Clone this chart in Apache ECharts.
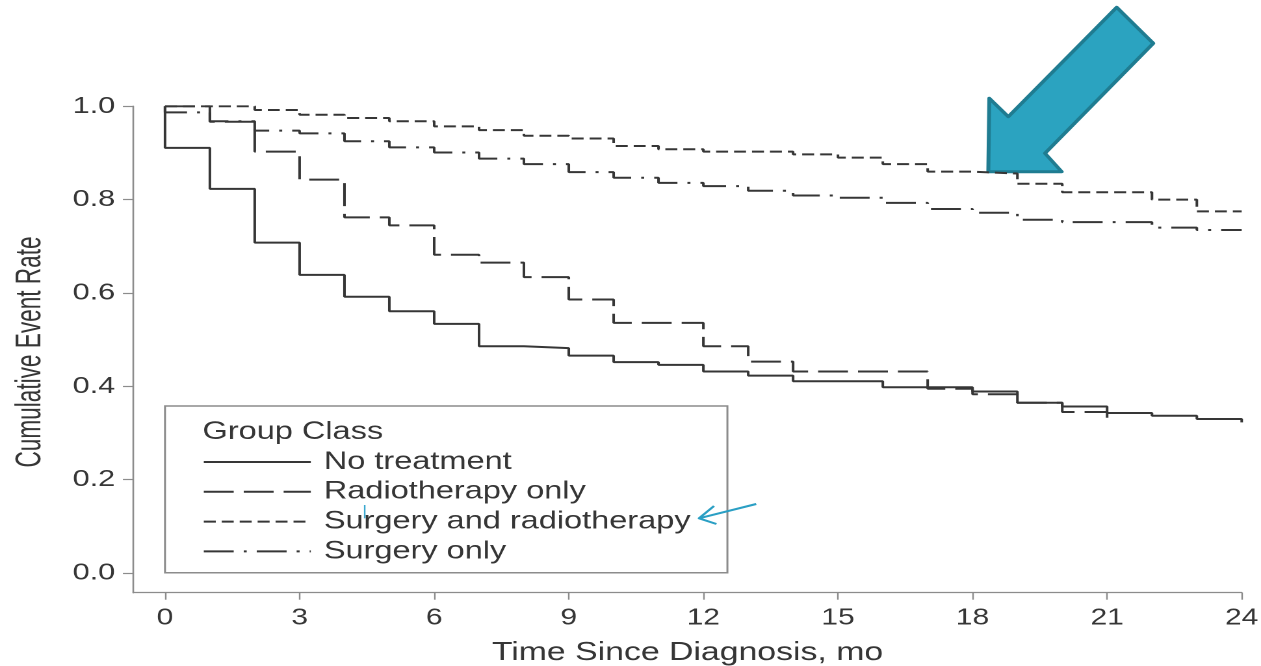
<!DOCTYPE html>
<html>
<head>
<meta charset="utf-8">
<title>Cumulative Event Rate by Group Class</title>
<script src="https://cdn.jsdelivr.net/npm/echarts@6/dist/echarts.min.js"></script>
<style>
  html, body { margin: 0; padding: 0; background: #fff; overflow: hidden; }
  /* the source figure is stretched sideways, so the chart is drawn narrow and widened */
  #chart { width: 970px; height: 666px; transform: scaleX(1.3); transform-origin: 0 0; }
</style>
</head>
<body>
<div id="chart"></div>
<script>
const STRETCH = 1.3

const groupNames = ["No treatment", "Radiotherapy only", "Surgery and radiotherapy", "Surgery only"]

// month where each step starts, and the rate held from there on
const noTreatmentMonths = [0, 0, 1, 2, 3, 4, 5, 6, 7, 8, 9, 10, 11, 12, 13, 14, 16, 18, 19, 20, 21, 22, 23, 24, 24]
const noTreatmentRates = [1.0, 0.911, 0.823, 0.708, 0.639, 0.592, 0.561, 0.534, 0.486, 0.482, 0.466, 0.452, 0.446, 0.432, 0.423, 0.411, 0.398, 0.389, 0.365, 0.357, 0.343, 0.337, 0.330, 0.330, 0.323]

const radioMonths = [0, 1, 2, 3, 4, 5, 6, 7, 8, 9, 10, 12, 13, 14, 17, 18, 19, 20, 21, 21]
const radioRates = [1.0, 0.967, 0.903, 0.843, 0.762, 0.745, 0.682, 0.665, 0.634, 0.586, 0.536, 0.486, 0.453, 0.432, 0.395, 0.383, 0.365, 0.345, 0.345, 0.326]

const surgRadioMonths = [0, 2, 3, 4, 5, 6, 7, 8, 9, 10, 11, 12, 14, 15, 16, 17, 18, 19, 20, 22, 23, 24]
const surgRadioRates = [1.0, 0.992, 0.982, 0.975, 0.968, 0.957, 0.949, 0.937, 0.931, 0.915, 0.908, 0.903, 0.897, 0.890, 0.876, 0.860, 0.856, 0.834, 0.816, 0.800, 0.775, 0.775]

const surgeryMonths = [0, 0, 1, 2, 3, 4, 5, 6, 7, 8, 9, 10, 11, 12, 13, 14, 15, 16, 17, 18, 19, 20, 22, 23, 24]
const surgeryRates = [1.0, 0.987, 0.968, 0.948, 0.942, 0.925, 0.912, 0.901, 0.888, 0.876, 0.859, 0.847, 0.836, 0.829, 0.819, 0.809, 0.804, 0.793, 0.780, 0.772, 0.757, 0.752, 0.740, 0.735, 0.735]

const xTicks = [0, 3, 6, 9, 12, 15, 18, 21, 24]
const yTicks = [0, 0.2, 0.4, 0.6, 0.8, 1.0]

const FONT = "'Liberation Sans', Arial, Helvetica, sans-serif"
const INK = "#363636"
const AXIS_GRAY = "#8c8c8c"
const TEAL = "#2ba3c0"
const TEAL_DARK = "#1f7c91"

// screen x -> chart x (before the css stretch)
const px = (x) => x / STRETCH

const toPairs = (months, rates) => months.map((m, i) => [m, rates[i]])

const makeSeries = (name, months, rates, dash) => ({
  name,
  type: "line",
  step: "end",
  symbol: "none",
  silent: true,
  data: toPairs(months, rates),
  itemStyle: { color: INK },
  lineStyle: { color: INK, width: 2, type: dash },
  emphasis: { disabled: true }
})

const chart = echarts.init(document.getElementById("chart"), null, { devicePixelRatio: 2 })

const option = {
  animation: false,
  backgroundColor: "#fff",
  grid: {
    left: px(133.3),
    right: 970 - px(1241.7),
    top: 106.3,
    bottom: 73.3,
    outerBoundsMode: "none"
  },
  xAxis: {
    type: "value",
    min: -0.707,
    max: 24,
    name: "Time Since Diagnosis, mo",
    nameLocation: "middle",
    nameGap: 47,
    nameTextStyle: { color: INK, fontSize: 26, fontFamily: FONT },
    axisLine: { onZero: false, lineStyle: { color: AXIS_GRAY, width: 1.3 } },
    axisTick: { length: 7, customValues: xTicks, lineStyle: { color: AXIS_GRAY, width: 1.2 } },
    axisLabel: { customValues: xTicks, margin: 14, color: INK, fontSize: 23, fontFamily: FONT },
    splitLine: { show: false }
  },
  yAxis: {
    type: "value",
    min: -0.042,
    max: 1.0,
    axisLine: { show: true, onZero: false, lineStyle: { color: AXIS_GRAY, width: 1.3 } },
    axisTick: { show: true, length: 8, customValues: yTicks, lineStyle: { color: AXIS_GRAY, width: 1.2 } },
    axisLabel: {
      customValues: yTicks,
      margin: 14,
      color: INK,
      fontSize: 23.5,
      fontFamily: FONT,
      formatter: (v) => v.toFixed(1)
    },
    splitLine: { show: false }
  },
  legend: {
    data: groupNames,
    orient: "vertical",
    left: px(202.5),
    top: 449.5,
    padding: 0,
    itemWidth: px(309.5) - px(202.5),
    itemHeight: 2,
    itemGap: 4.8,
    selectedMode: false,
    itemStyle: { opacity: 0 },
    textStyle: { color: INK, fontSize: 25, fontFamily: FONT, lineHeight: 25, padding: [0, 0, 0, 5] }
  },
  graphic: [
    {
      type: "rect",
      silent: true,
      shape: { x: px(165), y: 406, width: px(727.4) - px(165), height: 166.7 },
      style: { fill: "none", stroke: AXIS_GRAY, lineWidth: 1.5 }
    },
    {
      type: "text",
      silent: true,
      x: px(202.5),
      y: 432,
      style: {
        text: "Group Class", fill: INK, fontSize: 25, fontFamily: FONT,
        align: "left", textAlign: "left", verticalAlign: "middle", textVerticalAlign: "middle"
      }
    },
    {
      // y axis title, tall narrow lettering like the source
      type: "text",
      silent: true,
      x: px(30),
      y: 352,
      rotation: Math.PI / 2,
      scaleY: 1.24,
      style: {
        text: "Cumulative Event Rate", fill: INK, fontSize: 22.6, fontFamily: FONT,
        align: "center", textAlign: "center", verticalAlign: "middle", textVerticalAlign: "middle"
      }
    },
    {
      // big pointer arrow
      type: "polygon",
      silent: true,
      shape: {
        points: [
          [px(988.3), 171.7], [px(989.3), 98.3], [px(1008.3), 116.7], [px(1116.7), 7.3],
          [px(1153.3), 43.3], [px(1045), 153.3], [px(1061.7), 171.7]
        ]
      },
      style: { fill: TEAL, stroke: TEAL_DARK, lineWidth: 3, lineJoin: "round" }
    },
    {
      type: "polyline",
      silent: true,
      shape: { points: [[px(756.2), 504], [px(699), 518.3]] },
      style: { stroke: "#2a9fc4", lineWidth: 2, fill: "none" }
    },
    {
      type: "polyline",
      silent: true,
      shape: { points: [[px(714), 506], [px(699), 518.3], [px(716.4), 524]] },
      style: { stroke: "#2a9fc4", lineWidth: 2, fill: "none", lineJoin: "round" }
    },
    {
      type: "line",
      silent: true,
      shape: { x1: px(364.7), y1: 505, x2: px(364.7), y2: 518.3 },
      style: { stroke: "#3aa8d0", lineWidth: 1.2 }
    }
  ],
  series: [
    makeSeries(groupNames[0], noTreatmentMonths, noTreatmentRates, "solid"),
    makeSeries(groupNames[1], radioMonths, radioRates, [23, 7.7]),
    makeSeries(groupNames[2], surgRadioMonths, surgRadioRates, [9.2, 4.6]),
    makeSeries(groupNames[3], surgeryMonths, surgeryRates, [23, 7.7, 2.3, 7.7])
  ]
}

chart.setOption(option)
</script>
</body>
</html>
